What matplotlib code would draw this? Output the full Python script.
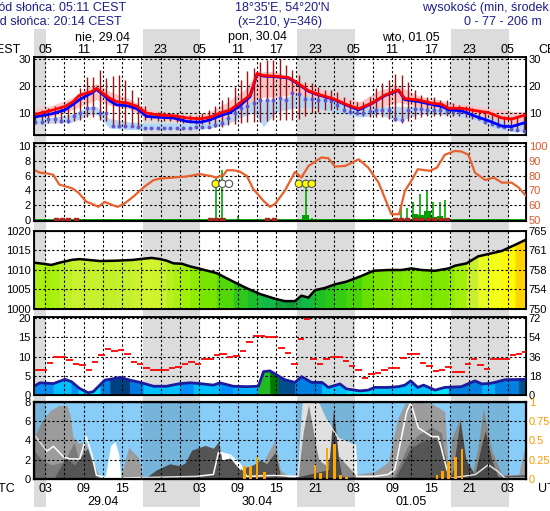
import numpy as np
import matplotlib
matplotlib.use('Agg')
import matplotlib.pyplot as plt
from matplotlib.colors import LinearSegmentedColormap, Normalize
from matplotlib.transforms import blended_transform_factory

plt.rcParams['font.family'] = ['Liberation Sans', 'DejaVu Sans']

# ---------------- data (hours from 29.04 00:00 UTC) ----------------
night = [(0.0, 3.18), (18.23, 27.18), (42.23, 51.18), (66.23, 75.18)]
label_hours = [3, 9, 15, 21, 27, 33, 39, 45, 51, 57, 63, 69, 75]
cest_labels = ['05', '11', '17', '23', '05', '11', '17', '23', '05', '11', '17', '23', '05']
utc_labels = ['03', '09', '15', '21', '03', '09', '15', '21', '03', '09', '15', '21', '03']
top_dates = ['nie, 29.04', 'pon, 30.04', 'wto, 01.05']
bottom_dates = ['29.04', '30.04', '01.05']
date_hours = [12, 36, 60]

# panel 1: temperature
t_temp = [1.2, 3.3, 4.3, 6.1, 7.4, 8.3, 9.4, 10.3, 11.0, 12.2, 13.1, 14.1, 15.9, 17.3, 18.8, 20.4,
          23.0, 25.1, 27.1, 28.7, 30.2, 31.8, 33.3, 34.9, 36.0, 37.0, 38.8, 40.9, 42.2, 44.0, 45.5,
          47.9, 50.0, 51.8, 53.8, 55.9, 58.0, 59.0, 61.1, 63.2, 64.7, 65.8, 67.9, 70.0, 72.0, 74.1,
          75.6, 77.85]
temp_red = [9.4, 10.6, 11.2, 12.5, 14.3, 16.5, 17.4, 18.0, 19.2, 17.0, 15.5, 14.3, 13.7, 12.5, 10.0,
            9.4, 9.0, 8.2, 7.9, 8.5, 10.0, 11.2, 13.7, 16.7, 24.7, 23.9, 23.7, 23.2, 21.3, 18.3, 17.0,
            15.3, 13.1, 11.6, 13.7, 16.7, 18.6, 15.4, 14.9, 13.7, 13.3, 11.8, 11.8, 10.9, 10.2, 8.2,
            7.8, 9.4]
temp_blue = [8.5, 9.4, 9.9, 11.2, 13.3, 14.9, 16.4, 17.5, 18.8, 16.5, 14.5, 13.1, 12.7, 11.6, 8.8,
             8.5, 8.2, 6.9, 6.6, 7.5, 9.0, 10.2, 12.7, 16.1, 24.5, 23.7, 23.5, 23.0, 21.1, 18.1, 16.8,
             15.1, 12.9, 11.2, 13.5, 16.5, 18.4, 15.0, 14.3, 13.2, 12.5, 11.3, 10.8, 8.8, 7.2, 5.2,
             5.0, 6.6]
t_band = [1.2, 4, 7, 10, 11, 13, 16, 19, 22, 25, 28, 31, 34, 35.5, 37, 39, 42, 45, 48, 51, 52, 55,
          58, 61, 64, 67, 70, 73, 76, 77.85]
pink_hi = [11.8, 12.8, 15.5, 20.0, 21.0, 18.0, 15.5, 11.5, 10.2, 9.4, 9.8, 13.5, 18.5, 23.5, 25.5,
           25.3, 22.5, 20.0, 16.5, 14.8, 14.3, 18.5, 20.4, 16.5, 15.0, 13.5, 12.7, 11.5, 10.6, 10.6]
pink_lo = [8.0, 8.8, 11.0, 14.0, 15.0, 13.0, 11.5, 8.0, 7.5, 6.5, 6.3, 8.5, 11.5, 14.5, 16.0, 16.0,
           17.0, 15.5, 13.5, 11.0, 10.5, 12.0, 14.0, 12.5, 11.5, 10.0, 8.5, 6.0, 5.0, 6.0]
lb_hi = [8.2, 8.5, 9.5, 12.5, 12.5, 8.0, 6.8, 6.3, 6.3, 6.3, 6.5, 8.5, 13.0, 15.0, 14.9, 15.0, 17.0,
         16.0, 15.0, 12.0, 12.0, 12.5, 12.5, 12.5, 12.0, 11.5, 10.0, 8.0, 6.0, 6.0]
lb_lo = [6.0, 6.3, 6.5, 9.5, 9.5, 4.5, 3.9, 3.9, 3.9, 3.9, 4.2, 5.5, 9.0, 10.0, 5.0, 10.5, 12.0,
         12.0, 10.5, 9.0, 8.5, 9.5, 7.0, 9.5, 9.5, 9.0, 7.5, 4.5, 3.0, 3.5]
t_hourly = np.arange(1.5, 78.0, 1.0)
dew = [6.7, 6.7, 7.8, 7.8, 7.2, 7.2, 8.8, 10.2, 11.8, 11.8,
       10.0, 10.0, 5.3, 5.3, 5.3, 5.3, 4.7, 4.5, 4.5, 4.5,
       4.5, 4.5, 4.5, 4.5, 4.5, 4.7, 4.8, 5.0, 5.7, 6.3,
       8.2, 10.0, 11.8, 12.5, 13.7, 14.9, 14.9, 14.9,
       15.5, 15.0, 17.4, 17.2, 15.3, 15.3, 14.9, 14.9, 14.5, 13.1,
       11.2, 10.6, 10.2, 10.2, 10.8, 11.2, 11.2, 11.2, 7.9, 7.5,
       11.2, 11.4, 11.4, 11.2, 11.2, 11.2, 10.9, 10.9, 10.6, 10.4,
       9.4, 8.2, 6.7, 6.1, 5.3, 4.7, 4.1, 3.9, 3.5]
spk_hi = [10.5, 11.2, 11.8, 12.5, 12.7, 13.7, 15.2, 19.2, 23.5, 23.5,
          26.0, 22.9, 23.7, 24.1, 22.3, 18.6, 16.1, 12.5, 10.6, 10.6,
          10.6, 10.0, 10.0, 9.4, 9.4, 9.0, 10.0, 11.0, 12.5, 14.9,
          16.1, 19.8, 22.3, 25.7, 26.6, 29.0, 29.6, 29.6,
          30.2, 27.8, 26.0, 24.1, 21.7, 21.0, 19.8, 18.6, 18.6, 18.0,
          16.1, 14.9, 14.3, 14.3, 16.1, 19.2, 21.0, 22.3, 24.5, 24.1,
          21.7, 18.6, 16.7, 16.1, 16.1, 14.9, 14.9, 13.7, 13.1, 12.5,
          11.8, 11.2, 10.6, 10.0, 8.8, 8.8, 8.5, 8.8, 9.0]
spk_lo = [6.0, 6.0, 6.5, 6.5, 6.5, 6.5, 7.0,
          7.5, 8.5, 8.5, 7.5, 7.0, 5.0, 5.0, 5.0, 5.0, 5.0,
          7.5, 7.5, 7.2, 7.0, 7.0, 6.8, 6.5, 6.3, 6.0, 6.0, 6.0,
          5.0, 5.0, 5.5, 6.0, 6.5, 6.7, 6.7, 6.7, 7.0, 7.5,
          7.5, 7.5, 7.5, 8.0, 9.0, 10.0, 10.5, 11.0, 11.2, 11.0, 10.5, 10.0, 9.5, 9.0,
          8.5, 8.5, 8.5, 8.0, 7.0, 6.5, 7.0,
          8.0, 8.5, 9.0, 9.0, 9.0, 9.0, 9.0, 9.0, 8.5, 8.0, 7.5, 7.0, 6.0, 5.0, 4.5, 4.0, 3.5, 3.5]

# panel 2: humidity and precipitation
t_rh = [1.2, 2.2, 3.3, 4.3, 5.2, 6.4, 7.2, 8.2, 9.4, 10.3, 11.3, 12.3, 13.4, 14.3, 15.3, 16.7, 18.3,
        19.9, 20.9, 23.0, 25.0, 27.1, 28.7, 29.7, 30.8, 31.3, 32.3, 33.3, 34.4, 35.4, 37.0, 38.0,
        38.8, 40.3, 41.9, 42.9, 44.0, 46.0, 47.1, 48.1, 49.7, 51.8, 53.3, 54.9, 56.9, 58.1, 59.0,
        60.0, 61.0, 62.9, 64.0, 65.2, 66.8, 67.8, 68.9, 69.9, 71.5, 72.8, 74.1, 75.6, 76.7, 77.85]
rh = [84, 82, 81.5, 80.5, 74, 72.5, 71.5, 68.5, 62.5, 61, 59, 62.3, 60.3, 59, 61, 65.7, 72, 77, 78,
      78.7, 79.4, 81, 79.8, 78.7, 80.5, 83.6, 83.6, 82.7, 79.8, 71, 63, 59, 61, 69.7, 82.5, 78.7,
      86.5, 92.2, 91.7, 86.1, 86.5, 91, 85.4, 75.3, 54, 54, 69.7, 76.5, 84.3, 83.2, 85.4, 94, 96.6,
      96.2, 94, 82, 77, 78.7, 75.3, 75.3, 72, 66.4]
pbar_t = [29.4, 30.6, 43.5, 58.0, 60.6, 61.5, 62.5, 63.6, 64.5]
pbar_v = [0.3, 0.3, 0.7, 0.1, 0.8, 0.7, 1.2, 0.4, 0.6]
pline_t = [29.6, 30.6, 33.0, 43.6, 44.5, 58.4, 59.4, 60.3, 61.4, 62.4, 63.4, 64.4, 65.3]
pline_v = [5.7, 6.7, 0.5, 4.9, 0.3, 2.0, 1.7, 2.4, 3.5, 3.9, 2.4, 2.4, 2.7]
sq_t = [4.7, 5.6, 6.6, 7.8, 28.6, 29.6, 30.6, 37.6, 38.6, 57.4, 58.4, 59.4, 60.5, 61.5, 62.6, 63.6,
        64.6, 65.5]
circ_t = [29.56, 30.6, 31.63, 42.5, 43.6, 44.5]
circ_v = [4.9, 4.9, 4.9, 4.9, 4.9, 4.9]
circ_col = ['#ffff00', '#ffffff', '#ffffff', '#ffff00', '#ffff00', '#ffff00']

# panel 3: pressure
t_p = [1.2, 2.7, 4.0, 5.3, 7.15, 8.4, 11.6, 14.2, 16.7, 18.3, 19.6, 20.9, 21.9, 23.0, 24.3, 25.6,
       27.1, 29.7, 32.3, 34.4, 36.5, 38.8, 40.3, 41.9, 42.9, 44.0, 45.0, 46.6, 48.1, 49.9, 52.3,
       54.1, 56.4, 58.5, 60.0, 61.6, 63.7, 65.8, 66.8, 68.6, 70.4, 72.0, 74.1, 76.2, 77.85]
pres = [1011.8, 1011.5, 1011.2, 1011.8, 1012.5, 1012.7, 1012.2, 1012.3, 1012.5, 1012.8, 1013.0,
        1012.7, 1012.3, 1011.6, 1011.5, 1010.8, 1010.2, 1009.1, 1006.9, 1005.2, 1003.7, 1002.5,
        1001.9, 1001.9, 1003.3, 1002.8, 1004.7, 1005.3, 1006.2, 1006.9, 1008.4, 1009.7, 1009.9,
        1009.9, 1010.3, 1009.9, 1009.7, 1010.3, 1011.0, 1011.6, 1013.4, 1014.0, 1014.8, 1016.4,
        1017.7]

# panel 4: wind
t_w = [1.2, 2.2, 4.3, 6.1, 7.1, 8.4, 9.7, 10.5, 12.3, 13.1, 14.7, 16.2, 17.8, 19.9, 21.9, 24.0,
       25.6, 27.1, 29.2, 30.2, 32.3, 34.4, 36.2, 37.0, 38.0, 38.8, 40.3, 41.9, 42.9, 44.5, 46.1,
       47.1, 48.9, 49.9, 52.0, 53.3, 54.3, 56.4, 58.0, 59.0, 59.9, 61.0, 61.9, 63.7, 65.2, 67.8,
       69.9, 71.0, 72.5, 74.6, 77.85]
wind = [2.2, 3.2, 3.0, 4.1, 3.5, 1.7, 0.6, 0.9, 3.9, 4.1, 4.6, 3.9, 3.3, 2.3, 2.3, 3.0, 3.2, 3.0,
        2.6, 3.2, 2.3, 2.2, 2.3, 6.1, 6.3, 5.5, 4.0, 3.3, 4.8, 3.3, 3.3, 2.0, 2.9, 1.6, 1.1, 1.3,
        2.0, 2.0, 2.2, 2.6, 3.7, 2.0, 2.6, 1.3, 2.0, 2.2, 3.7, 2.9, 3.1, 4.0, 4.1]
gust_t = np.arange(1.3, 78.0, 1.0)
gust = [6.4, 6.4, 8.3, 9.8, 9.8, 9.0, 8.1, 7.7, 6.4, 8.5, 10.4, 11.9, 11.5, 11.7, 10.7, 8.5, 8.1,
        7.0, 6.4, 6.4, 6.4, 7.0, 7.4, 8.1, 8.5, 8.1, 9.3, 9.3, 10.3, 10.7, 9.8, 10.1, 11.4, 13.7,
        15.3, 15.3, 15.0, 15.0,
        12.3, 11.0, 8.2, 14.5, 19.8, 9.5, 8.2, 9.5, 10.0, 10.0, 8.9, 7.5, 6.5, 4.4, 5.5, 5.7, 6.5,
        7.0, 7.0, 9.7, 10.8, 10.8, 8.4, 7.5, 6.3, 6.5, 7.3, 6.1, 6.1, 8.2, 9.4, 7.9, 6.8, 9.4, 9.4,
        9.4, 10.3, 10.8, 11.2]
wblk_t = [1.2, 4.3, 7.1, 8.2, 11.6, 13.1, 16.2, 18.3, 24.0, 26.1, 30.2, 32.3, 36.2, 38.0, 39.3,
          41.9, 46.1, 49.9, 53.7, 60.0, 63.2, 65.8, 71.0, 73.0, 76.7, 77.85]
wblk_c = ['#0a8cf0', '#00bfff', '#0090f0', '#00e0ff', '#0080e0', '#004080', '#0078e0', '#00c0ff',
          '#0090ff', '#00c0ff', '#0090ff', '#00b0ff', '#22bb22', '#007700', '#004f8c', '#0080e0',
          '#00c0ff', '#00e5ff', '#00c8ff', '#00c0ff', '#00e5ff', '#0080e0', '#00b0ff', '#0080e0',
          '#005090']

# panel 5: clouds and precipitation
t_cl_light = [1.2, 2.5, 3.8, 5.1, 6.4, 6.9, 7.3, 8.2, 9.2, 10.0, 11.0, 11.6, 14.7, 16.0, 16.7, 17.5,
              18.3, 28.0, 29.2, 30.0, 30.5, 33.0, 36.5, 37.5, 38.8, 39.6, 40.9, 42.4, 43.2, 44.0,
              45.0, 45.6, 46.6, 47.9, 49.2, 51.3, 54.3, 56.4, 57.9, 59.0, 60.5, 63.2, 65.2, 65.8,
              66.3, 67.6, 68.5, 69.5, 70.3, 71.2, 72.5, 74.1, 76.7, 77.85]
cl_light = [4.2, 6.0, 7.1, 7.6, 7.6, 6.6, 4.4, 3.7, 3.9, 2.5, 1.0, 0.0, 0.0, 3.3, 2.8, 2.3, 0.0,
            0.0, 2.5, 3.9, 2.0, 1.0, 1.0, 2.5, 4.0, 1.0, 0.3, 0.5, 5.0, 7.7, 4.0, 2.0, 1.5, 3.0,
            2.0, 0.5, 0.8, 1.8, 6.3, 7.8, 8.0, 7.8, 7.0, 0.5, 4.2, 6.3, 2.0, 0.5, 3.0, 7.3, 3.0,
            0.5, 0.5, 3.9]
t_cl_mid = [1.2, 2.5, 4.0, 6.0, 7.5, 8.5, 9.5, 10.5, 11.2, 56.9, 57.4, 59.5, 61.1, 63.2, 64.7, 65.5,
            66.0, 77.85]
cl_mid = [3.0, 2.0, 1.5, 1.8, 3.8, 1.5, 2.5, 1.0, 0.0, 0.0, 0.5, 3.5, 4.6, 5.4, 4.8, 1.0, 0.0, 0.0]
t_cl_dark = [1.2, 4.3, 6.2, 7.6, 8.2, 9.6, 11.0, 11.5, 18.3, 20.4, 22.4, 24.0, 24.8, 25.8, 27.9,
             29.2, 30.0, 30.5, 31.8, 33.3, 35.4, 36.5, 37.5, 38.8, 39.6, 40.9, 42.0, 47.1, 47.9,
             48.7, 49.2, 57.4, 59.9, 61.6, 63.7, 65.2, 66.0, 66.5, 67.6, 68.5, 69.9, 70.9, 71.5,
             72.5, 73.5, 77.85]
cl_dark = [0.0, 0.0, 2.2, 1.5, 2.0, 3.2, 0.5, 0.0, 0.0, 1.0, 1.6, 1.4, 1.7, 3.0, 3.5, 3.2, 3.9, 2.0,
           2.2, 1.0, 1.5, 2.0, 1.6, 2.8, 0.5, 0.2, 0.2, 1.0, 7.3, 2.0, 0.3, 0.0, 3.2, 3.9, 4.2, 2.5,
           0.1, 1.0, 6.1, 2.0, 0.5, 3.5, 5.0, 2.0, 0.3, 0.5]
t_fog = [1.2, 12.3, 13.2, 13.9, 14.5, 14.8, 29.9, 30.2, 31.5, 33.3, 33.6, 42.4, 43.2, 45.6, 46.6,
         47.1, 48.7, 51.3, 51.5, 77.85]
fog = [0, 0, 3.5, 3.9, 2.5, 0, 0, 2.8, 2.5, 1.6, 0, 0, 8.0, 7.8, 6.3, 5.9, 4.2, 3.5, 0, 0]
t_tot = [1.2, 3.3, 4.3, 5.9, 6.9, 8.4, 9.4, 10.3, 11.0, 13.0, 26.6, 29.2, 30.0, 31.8, 33.3, 34.4,
         38.8, 41.9, 42.4, 43.2, 45.6, 46.6, 48.7, 51.3, 51.5, 54.3, 56.4, 57.4, 57.9, 59.3, 59.9,
         61.1, 63.2, 64.2, 65.5, 66.0, 70.0, 72.0, 73.5, 74.6, 77.85]
tot = [4.7, 2.9, 3.4, 2.3, 2.1, 2.1, 4.4, 2.5, 0.4, 0.1, 0.3, 0.5, 2.8, 2.5, 1.6, 0.3, 0.4, 0.3,
       0.3, 7.9, 7.8, 6.3, 4.2, 3.5, 0.3, 0.3, 0.5, 1.0, 2.5, 7.0, 7.9, 5.3, 4.4, 4.4, 1.1, 0.1,
       0.5, 1.5, 0.8, 0.1, 0.1]
rain_t = [34.0, 35.0, 36.0, 37.1, 45.0, 45.9, 46.9, 48.0, 49.0, 49.9, 64.0, 64.9, 65.8, 66.9, 67.9]
rain = [0.17, 0.17, 0.29, 0.09, 0.19, 0.08, 0.40, 0.46, 0.06, 0.03, 0.06, 0.11, 0.22, 0.29, 0.39]

# ---------------- figure ----------------
W, H = 550, 511
fig = plt.figure(figsize=(W / 100, H / 100), dpi=100)
X0, X1 = 1.2, 77.85
FS = 8
HC = '#1e1e8c'


def rect(top, bottom):
    return [33.5 / W, 1 - bottom / H, 492.5 / W, (bottom - top) / H]


bg = fig.add_axes(rect(29, 507))
bg.set_zorder(0)
for a, b in night:
    bg.axvspan(a, b, color='#dcdcdc', lw=0)
bg.set_xlim(X0, X1)
bg.set_ylim(0, 1)
bg.axis('off')

grid_hours = list(range(3, 78, 3))
DASH = (0, (2, 2))


def panel(top, bottom, ylim, yticks, lbl_left, rylim, rticks, lbl_right, rcolor='k', face='none'):
    ax = fig.add_axes(rect(top, bottom))
    ax.set_zorder(2)
    ax.set_facecolor(face)
    ax.set_xlim(X0, X1)
    ax.set_ylim(*ylim)
    ax.set_xticks(grid_hours)
    ax.set_yticks(yticks)
    ax.set_yticklabels(lbl_left)
    ax.grid(True, color='k', ls=DASH, lw=0.8)
    ax.tick_params(axis='x', length=0, labelbottom=False)
    ax.tick_params(axis='y', length=0, pad=2, labelsize=FS)
    for s in ax.spines.values():
        s.set_linewidth(1.3)
    tw = ax.twinx()
    tw.set_zorder(2.1)
    tw.set_ylim(*rylim)
    tw.set_yticks(rticks)
    tw.set_yticklabels(lbl_right)
    tw.tick_params(axis='y', length=0, pad=2, labelsize=FS, labelcolor=rcolor)
    tw.set_xlim(X0, X1)
    return ax, tw


# Panel 1
ax1, tw1 = panel(57, 135, (1.9, 30.8), [10, 20, 30], ['10', '20', '30'],
                 (1.9, 30.8), [10, 20, 30], ['10', '20', '30'])
ax1.fill_between(t_band, pink_lo, pink_hi, color='#f7c6c6', lw=0, zorder=1)
ax1.fill_between(t_band, lb_lo, lb_hi, color='#b3d8f7', lw=0, zorder=1.1)
ax1.vlines(t_hourly, spk_lo, spk_hi, color='#9e1414', lw=1.0, zorder=2)
ax1.scatter(t_hourly, dew, s=8, color='#6655cc', zorder=3, linewidths=0)
ax1.plot(t_temp, temp_blue, color='#0000ff', lw=2, zorder=4)
ax1.plot(t_temp, temp_red, color='#ff0000', lw=2, zorder=5)

# Panel 2
ax2, tw2 = panel(143.3, 221.3, (-0.15, 10.35), [0, 2, 4, 6, 8, 10], ['0', '2', '4', '6', '8', '10'],
                 (49.25, 101.75), [50, 60, 70, 80, 90, 100], ['50', '60', '70', '80', '90', '100'],
                 rcolor='#e2572a')
ax2.axhline(0, color='#00a000', lw=1.3, zorder=1.2)
ax2.bar(pbar_t, pbar_v, width=1.0, color='#00a000', lw=0, zorder=1.3)
ax2.vlines(pline_t, 0, pline_v, color='#00a800', lw=1.2, zorder=1.4)
ax2.scatter(sq_t, [0] * len(sq_t), marker='s', s=10, color='#b22222', zorder=3)
ax2.scatter(circ_t, circ_v, s=28, c=circ_col, edgecolors='#555555', linewidths=0.8, zorder=4)
tw2.plot(t_rh, rh, color='#e8602c', lw=1.6)

# Panel 3
ax3, tw3 = panel(230.7, 308.5, (1000, 1020), [1000, 1005, 1010, 1015, 1020],
                 ['1000', '1005', '1010', '1015', '1020'],
                 (1000, 1020), [1000, 1005, 1010, 1015, 1020], ['750', '754', '758', '761', '765'])
pcmap = LinearSegmentedColormap.from_list('pres', [
    (0.0, '#0a8a20'), (0.125, '#12b84a'), (0.25, '#20c020'), (0.375, '#3cd010'),
    (0.5, '#66e000'), (0.625, '#99f000'), (0.72, '#c8f030'), (0.8125, '#eeff20'),
    (0.906, '#ffff00'), (1.0, '#ffd200')])
pnorm = Normalize(1001, 1017)
for i in range(len(t_p) - 1):
    c = pcmap(pnorm((pres[i] + pres[i + 1]) / 2))
    ax3.fill_between(t_p[i:i + 2], 1000, pres[i:i + 2], color=c, lw=0.4, edgecolor=c, zorder=1)
ax3.plot(t_p, pres, color='k', lw=1.8, zorder=3)

# Panel 4
ax4, tw4 = panel(317, 395.3, (-0.05, 20.3), [0, 5, 10, 15, 20], ['0', '5', '10', '15', '20'],
                 (-0.05, 20.3), [0, 5, 10, 15, 20], ['0', '18', '36', '54', '72'])
for i, c in enumerate(wblk_c):
    xs = np.linspace(wblk_t[i], wblk_t[i + 1], 30)
    ax4.fill_between(xs, 0, np.interp(xs, t_w, wind), color=c, lw=0.4, edgecolor=c, zorder=1)
ax4.plot(t_w, wind, color='#1c1c9c', lw=2, zorder=3)
ax4.hlines(gust, gust_t, gust_t + 1.0, color='#ff0000', lw=1.3, zorder=4)

# Panel 5
ax5, tw5 = panel(401.5, 479.3, (0, 8.02), [0, 2, 4, 6, 8], ['0', '2', '4', '6', '8'],
                 (0, 8.02 / 8), [0, 0.25, 0.5, 0.75, 1], ['0', '0.25', '0.5', '0.75', '1'],
                 rcolor='#ff9900', face='#87cdf8')
ax5.fill_between(t_fog, 0, fog, color='white', lw=0, zorder=0.9)
ax5.fill_between(t_cl_light, 0, cl_light, color='#9c9c9c', lw=0, zorder=1)
ax5.fill_between(t_cl_mid, 0, cl_mid, color='#7a7a7a', lw=0, zorder=1.05)
ax5.fill_between(t_cl_dark, 0, cl_dark, color='#555555', lw=0, zorder=1.1)
ax5.plot(t_tot, tot, color='white', lw=1.1, zorder=1.2)
for a, b in night:
    ax5.axvspan(a, b, color='#000000', alpha=0.12, lw=0, zorder=1.3)
ax5.set_xlim(X0, X1)
tw5.bar(rain_t, rain, width=0.42, color='#ffa500', lw=0)
for s in ax5.spines.values():
    s.set_linewidth(1.6)

# ---------------- header / footer texts ----------------
fig.text(126 / W, 1 - 8 / H, 'Wschód słońca: 05:11 CEST', ha='right', va='center', color=HC, fontsize=9)
fig.text(122 / W, 1 - 22 / H, 'Zachód słońca: 20:14 CEST', ha='right', va='center', color=HC, fontsize=9)
fig.text(282 / W, 1 - 8 / H, "18°35'E, 54°20'N", ha='center', va='center', color=HC, fontsize=9)
fig.text(280 / W, 1 - 22 / H, '(x=210, y=346)', ha='center', va='center', color=HC, fontsize=9)
fig.text(503 / W, 1 - 8 / H, 'wysokość (min, środek, max)', ha='center', va='center', color=HC, fontsize=9)
fig.text(503 / W, 1 - 22 / H, '0 - 77 - 206 m', ha='center', va='center', color=HC, fontsize=9)

tr = blended_transform_factory(bg.transData, fig.transFigure)
for h, lab in zip(label_hours, cest_labels):
    bg.text(h, 1 - 50 / H, lab, transform=tr, ha='center', va='center', fontsize=9, clip_on=False)
for h, lab in zip(label_hours, utc_labels):
    bg.text(h, 1 - 489 / H, lab, transform=tr, ha='center', va='center', fontsize=9, clip_on=False)
for h, lab in zip(date_hours, top_dates):
    bg.text(h, 1 - 37 / H, lab, transform=tr, ha='center', va='center', fontsize=9, clip_on=False)
for h, lab in zip(date_hours, bottom_dates):
    bg.text(h, 1 - 502 / H, lab, transform=tr, ha='center', va='center', fontsize=9, clip_on=False)
fig.text(21 / W, 1 - 50 / H, 'CEST', ha='right', va='center', fontsize=9)
fig.text(538 / W, 1 - 50 / H, 'CEST', ha='left', va='center', fontsize=9)
fig.text(15 / W, 1 - 489 / H, 'UTC', ha='right', va='center', fontsize=9)
fig.text(538 / W, 1 - 489 / H, 'UTC', ha='left', va='center', fontsize=9)

fig.savefig('out.png', dpi=100)
